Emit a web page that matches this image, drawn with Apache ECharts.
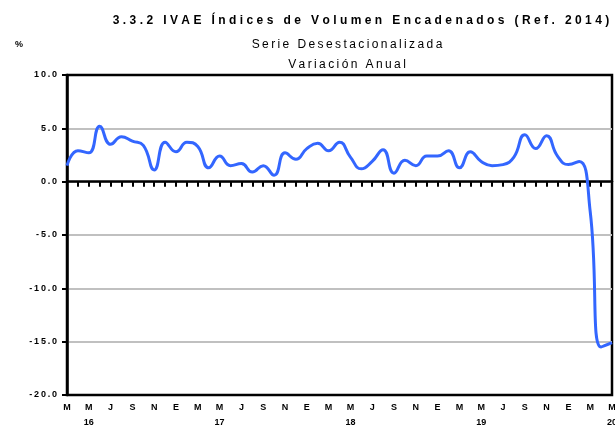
<!DOCTYPE html>
<html>
<head>
<meta charset="utf-8">
<script src="https://cdn.jsdelivr.net/npm/echarts@6/dist/echarts.min.js"></script>
<style>
  html, body { margin: 0; padding: 0; background: #fff; }
  #chart { width: 615px; height: 427px; }
</style>
</head>
<body>
<div id="chart"></div>
<script>
// etiquetas del eje X (mes inicial) y años
const monthInitials = ['E', 'F', 'M', 'A', 'M', 'J', 'J', 'A', 'S', 'O', 'N', 'D'];
const yearLabels = ['16', '17', '18', '19', '20'];

// serie mensual mar-2016 .. may-2020, variación anual (%)
const values2016 = [1.5, 2.9, 2.7, 5.2, 3.5, 4.2, 3.8, 3.4, 1.1, 3.7];
const values2017 = [2.8, 3.7, 3.3, 1.3, 2.4, 1.5, 1.7, 0.9, 1.5, 0.6, 2.7, 2.1];
const values2018 = [3.1, 3.6, 2.9, 3.7, 2.3, 1.2, 1.9, 3.0, 0.8, 2.0, 1.5, 2.4];
const values2019 = [2.4, 2.9, 1.3, 2.8, 1.9, 1.5, 1.6, 2.3, 4.4, 3.1, 4.3, 2.4];
const values2020 = [1.6, 1.9, -2.8, -15.5, -15.1];

const yTicks = [-20, -15, -10, -5, 0, 5, 10];

const data = [...values2016, ...values2017, ...values2018, ...values2019, ...values2020];

// categorías "aa-mm"
const categories = [];
yearLabels.forEach((yy, y) => {
  monthInitials.forEach((m, i) => {
    if (y === 0 && i < 2) return;
    if (y === yearLabels.length - 1 && i > 4) return;
    categories.push(yy + '-' + (i + 1));
  });
});

// espaciado de letras con espacio fino
const spaced = (s, gap = '\u2009') => s.split('').join(gap);

const FONT = 'Liberation Sans, Arial, sans-serif';

const chart = echarts.init(document.getElementById('chart'));

const options = {
  animation: false,
  backgroundColor: '#fff',
  title: [
    {
      text: spaced('3.3.2 IVAE Índices de Volumen Encadenados (Ref. 2014)', '\u2009\u200A'),
      left: 356,
      top: 10,
      textAlign: 'center',
      textStyle: {fontFamily: FONT, fontSize: 12, fontWeight: 'bold', color: '#000'},
    },
    {
      text: spaced('Serie Desestacionalizada'),
      left: 342,
      top: 34,
      textAlign: 'center',
      textStyle: {fontFamily: FONT, fontSize: 12, fontWeight: 'normal', color: '#000'},
    },
    {
      text: spaced('Variación Anual'),
      left: 342,
      top: 54,
      textAlign: 'center',
      textStyle: {fontFamily: FONT, fontSize: 12, fontWeight: 'normal', color: '#000'},
    },
    {
      text: '%',
      left: 10,
      top: 35,
      textStyle: {fontFamily: FONT, fontSize: 9, fontWeight: 'bold', color: '#000'},
    },
  ],
  grid: {
    left: 67,
    right: 3,
    top: 75,
    bottom: 32,
    containLabel: false,
    outerBoundsMode: 'none',
    show: true,
    borderColor: '#000',
    borderWidth: 2.5,
  },
  xAxis: [
    {
      type: 'category',
      data: categories,
      boundaryGap: false,
      position: 'bottom',
      axisLine: {onZero: false, show: false},
      axisTick: {show: false},
      splitLine: {show: false},
      axisLabel: {
        interval: 1,
        margin: 5,
        fontFamily: FONT,
        fontSize: 9,
        fontWeight: 'bold',
        color: '#000',
        lineHeight: 15,
        formatter: (val) => {
          const [yy, mm] = val.split('-');
          const letter = monthInitials[+mm - 1];
          return +mm === 5 ? letter + '\n' + yy : letter;
        },
      },
    },
    {
      type: 'category',
      data: categories,
      boundaryGap: false,
      position: 'top',
      axisLine: {onZero: true, lineStyle: {color: '#000', width: 2.5}},
      axisTick: {show: true, inside: true, interval: 0, length: 5, lineStyle: {color: '#000', width: 2}},
      axisLabel: {show: false},
      splitLine: {show: false},
    },
  ],
  yAxis: {
    type: 'value',
    min: yTicks[0],
    max: yTicks[yTicks.length - 1],
    interval: 5,
    axisLine: {show: true, lineStyle: {color: '#000', width: 2.5}},
    axisTick: {show: true, length: 5, lineStyle: {color: '#000', width: 2}},
    axisLabel: {
      margin: 10,
      fontFamily: FONT,
      fontSize: 9,
      fontWeight: 'bold',
      color: '#000',
      formatter: (v) => spaced(v.toFixed(1)),
    },
    splitLine: {
      show: true,
      showMinLine: false,
      showMaxLine: false,
      lineStyle: {color: '#c0c0c0', width: 2},
    },
  },
  series: [
    {
      name: 'IVAE',
      type: 'line',
      xAxisIndex: 0,
      data,
      smooth: 0.5,
      showSymbol: false,
      symbol: 'none',
      lineStyle: {color: '#3366ff', width: 3},
      z: 5,
    },
  ],
};

chart.setOption(options);
</script>
</body>
</html>
